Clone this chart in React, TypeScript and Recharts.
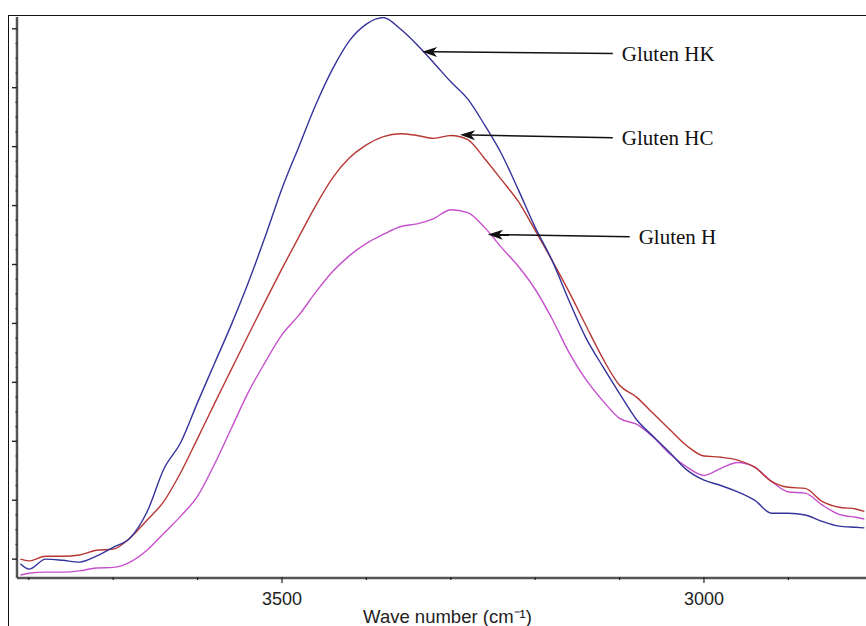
import { Line, LineChart, ReferenceLine, XAxis, YAxis } from "recharts"

// wave numbers (cm-1), read left to right off the reversed axis
const WAVENUMBERS = [
    3810, 3800, 3780, 3760, 3740, 3720, 3700, 3680, 3660, 3640,
    3620, 3600, 3580, 3560, 3540, 3520, 3500, 3480, 3460, 3440,
    3420, 3400, 3380, 3360, 3340, 3320, 3300, 3280, 3260, 3240,
    3220, 3200, 3180, 3160, 3140, 3120, 3100, 3080, 3060, 3040,
    3020, 3000, 2980, 2960, 2940, 2920, 2900, 2880, 2860, 2840,
    2820, 2810,
]

const GLUTEN_HK = [
    -0.008, -0.017, 0.0, -0.002, -0.005, 0.005, 0.02, 0.036, 0.08, 0.153,
    0.198, 0.266, 0.332, 0.398, 0.469, 0.547, 0.629, 0.7, 0.771, 0.832,
    0.88, 0.908, 0.919, 0.9, 0.873, 0.842, 0.81, 0.781, 0.737, 0.688,
    0.627, 0.563, 0.507, 0.439, 0.376, 0.327, 0.281, 0.237, 0.208, 0.18,
    0.151, 0.134, 0.125, 0.114, 0.1, 0.078, 0.078, 0.075, 0.064, 0.056,
    0.054, 0.053,
]

const GLUTEN_HC = [
    0.0, -0.003, 0.005, 0.005, 0.007, 0.015, 0.017, 0.036, 0.066, 0.098,
    0.147, 0.205, 0.264, 0.322, 0.38, 0.437, 0.493, 0.547, 0.6, 0.647,
    0.681, 0.703, 0.717, 0.722, 0.719, 0.714, 0.719, 0.712, 0.68, 0.644,
    0.607, 0.558, 0.507, 0.454, 0.397, 0.341, 0.295, 0.275, 0.247, 0.219,
    0.192, 0.175, 0.173, 0.168, 0.156, 0.132, 0.122, 0.12, 0.098, 0.088,
    0.085, 0.081,
]

const GLUTEN_H = [
    -0.027, -0.024, -0.022, -0.022, -0.02, -0.015, -0.014, -0.005, 0.015, 0.044,
    0.073, 0.107, 0.161, 0.222, 0.283, 0.334, 0.381, 0.414, 0.453, 0.488,
    0.515, 0.536, 0.551, 0.564, 0.569, 0.578, 0.593, 0.588, 0.563, 0.529,
    0.497, 0.458, 0.408, 0.351, 0.305, 0.269, 0.239, 0.229, 0.207, 0.178,
    0.156, 0.142, 0.154, 0.164, 0.156, 0.132, 0.114, 0.112, 0.092, 0.076,
    0.071, 0.068,
]

const X_TICKS = [3800, 3700, 3600, 3500, 3400, 3300, 3200, 3100, 3000, 2900]
const X_LABELLED = [3500, 3000]
const Y_MAJOR = [0, 0.1, 0.2, 0.3, 0.4, 0.5, 0.6, 0.7, 0.8, 0.9]
const Y_TICKS = Y_MAJOR.flatMap((v) =>
    v < 0.9 ? [v, v + 0.025, v + 0.05, v + 0.075] : [v]
)

// arrow: from the label (tail) to the curve (tip), in data units
const ANNOTATIONS = [
    { name: "Gluten HK", tail: [3108, 0.858], tip: [3334, 0.861] },
    { name: "Gluten HC", tail: [3108, 0.715], tip: [3289, 0.72] },
    { name: "Gluten H", tail: [3088, 0.547], tip: [3256, 0.551] },
]

const data = WAVENUMBERS.map((wn, i) => ({
    wn,
    hk: GLUTEN_HK[i],
    hc: GLUTEN_HC[i],
    h: GLUTEN_H[i],
}))

const SANS = "'Liberation Sans', Arial, Helvetica, sans-serif"
const SERIF = "'Liberation Serif', 'Times New Roman', serif"

function XTick({ x, y, payload }: any) {
    const labelled = X_LABELLED.includes(payload.value)
    return (
        <g>
            <line x1={x} x2={x} y1={y - 1} y2={y + (labelled ? 5 : 2)} stroke="#222" strokeWidth={1.2} />
            {labelled && (
                <text x={x} y={y + 27} textAnchor="middle" fontSize={18} fontFamily={SANS} fill="#222">
                    {payload.value}
                </text>
            )}
        </g>
    )
}

function YTick({ x, y, payload }: any) {
    const v = payload.value * 10
    const major = Math.abs(v - Math.round(v)) < 1e-6
    return (
        <line
            x1={major ? x - 5 : x - 1.5}
            x2={x}
            y1={y}
            y2={y}
            stroke="#222"
            strokeWidth={major ? 1.4 : 1.2}
        />
    )
}

function arrowShape(label: string) {
    return (p: any) => {
        const { x1, y1, x2, y2 } = p
        const len = Math.hypot(x2 - x1, y2 - y1) || 1
        const dx = (x2 - x1) / len
        const dy = (y2 - y1) / len
        const nx = -dy
        const ny = dx
        const head = 15
        const half = 5
        const bx = x2 - dx * head
        const by = y2 - dy * head
        const notchX = x2 - dx * 11
        const notchY = y2 - dy * 11
        return (
            <g>
                <line x1={x1} y1={y1} x2={notchX} y2={notchY} stroke="#111" strokeWidth={1.5} />
                <polygon
                    points={`${x2},${y2} ${bx + nx * half},${by + ny * half} ${notchX},${notchY} ${bx - nx * half},${by - ny * half}`}
                    fill="#111"
                />
                <text x={x1 + 9} y={y1} dy="0.35em" fontSize={21} fontFamily={SERIF} fill="#111">
                    {label}
                </text>
            </g>
        )
    }
}

export default function App() {
    return (
        <div style={{ position: "absolute", left: 0, top: 0, width: 866, height: 626, background: "#fff", overflow: "hidden" }}>
            {/* outer figure frame */}
            <div
                style={{
                    position: "absolute",
                    left: 8,
                    top: 15,
                    width: 858,
                    height: 611,
                    borderLeft: "1.5px solid #111",
                    borderTop: "1.5px solid #111",
                    boxSizing: "border-box",
                }}
            />
            <div style={{ position: "absolute", left: 0, top: 0 }}>
                <LineChart width={866} height={626} data={data} margin={{ top: 17, right: 0, left: 0, bottom: 0 }}>
                    <XAxis
                        dataKey="wn"
                        type="number"
                        domain={[2808, 3814]}
                        reversed
                        allowDataOverflow
                        ticks={X_TICKS}
                        interval={0}
                        height={48}
                        tickSize={0}
                        tickMargin={0}
                        tickLine={false}
                        tick={<XTick />}
                        axisLine={{ stroke: "#555", strokeWidth: 2.5 }}
                        label={{
                            value: "Wave number (cm⁻¹)",
                            position: "insideBottom",
                            offset: 3,
                            dx: 6,
                            style: { fontSize: 18.5, fontFamily: SANS, fill: "#222" },
                        }}
                    />
                    <YAxis
                        type="number"
                        domain={[-0.032, 0.92]}
                        allowDataOverflow
                        ticks={Y_TICKS}
                        interval={0}
                        width={17}
                        tickSize={0}
                        tickMargin={0}
                        tickLine={false}
                        tick={<YTick />}
                        axisLine={{ stroke: "#555", strokeWidth: 2.5 }}
                    />
                    <Line dataKey="h" name="Gluten H" type="monotone" stroke="#c650cc" strokeWidth={1.4} dot={false} isAnimationActive={false} />
                    <Line dataKey="hc" name="Gluten HC" type="monotone" stroke="#b73833" strokeWidth={1.4} dot={false} isAnimationActive={false} />
                    <Line dataKey="hk" name="Gluten HK" type="monotone" stroke="#35339b" strokeWidth={1.4} dot={false} isAnimationActive={false} />
                    {ANNOTATIONS.map((a) => (
                        <ReferenceLine
                            key={a.name}
                            segment={[
                                { x: a.tail[0], y: a.tail[1] },
                                { x: a.tip[0], y: a.tip[1] },
                            ]}
                            ifOverflow="visible"
                            shape={arrowShape(a.name)}
                        />
                    ))}
                </LineChart>
            </div>
        </div>
    )
}
